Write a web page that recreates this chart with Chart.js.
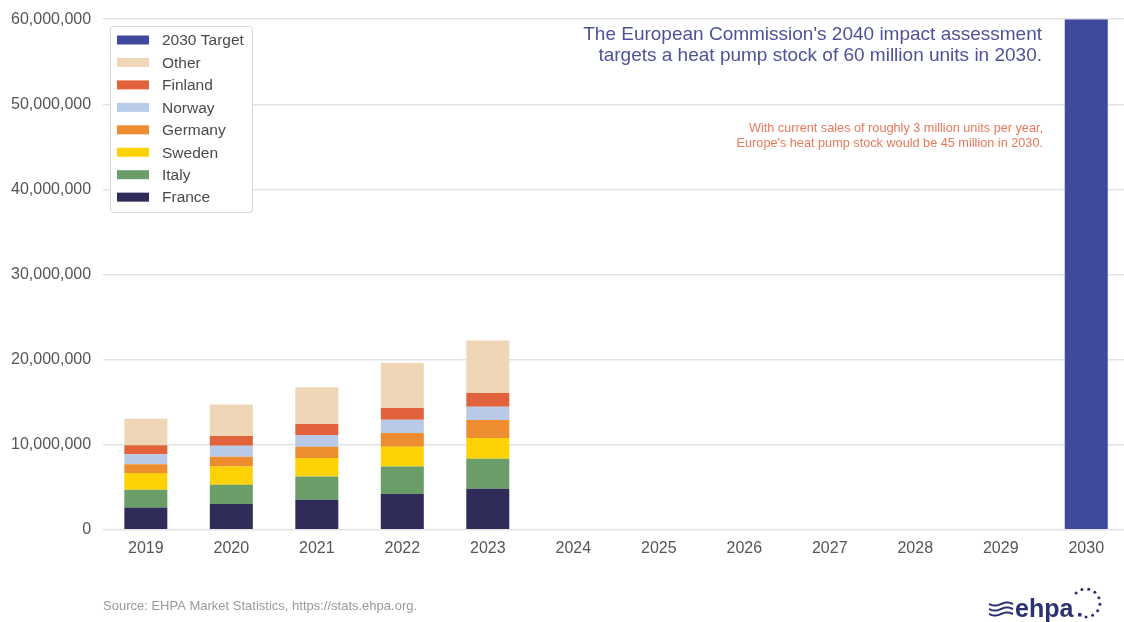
<!DOCTYPE html>
<html>
<head>
<meta charset="utf-8">
<script src="https://cdn.jsdelivr.net/npm/chart.js@4.4.1/dist/chart.umd.min.js"></script>
<style>
  html, body { margin: 0; padding: 0; background: #ffffff; overflow: hidden; }
  #wrap { position: relative; width: 1130px; height: 622px; }
</style>
</head>
<body>
<div id="wrap"><canvas id="c"></canvas></div>
<script>
// ---------- data ----------
const years = ['2019','2020','2021','2022','2023','2024','2025','2026','2027','2028','2029','2030'];
const france  = [2.62e6, 3.02e6, 3.53e6, 4.20e6, 4.82e6, null, null, null, null, null, null, null];
const italy   = [2.10e6, 2.27e6, 2.74e6, 3.25e6, 3.53e6, null, null, null, null, null, null, null];
const sweden  = [1.95e6, 2.16e6, 2.16e6, 2.31e6, 2.43e6, null, null, null, null, null, null, null];
const germany = [1.02e6, 1.14e6, 1.33e6, 1.61e6, 2.12e6, null, null, null, null, null, null, null];
const norway  = [1.20e6, 1.29e6, 1.38e6, 1.57e6, 1.57e6, null, null, null, null, null, null, null];
const finland = [1.06e6, 1.14e6, 1.29e6, 1.37e6, 1.61e6, null, null, null, null, null, null, null];
const other   = [3.10e6, 3.69e6, 4.31e6, 5.33e6, 6.16e6, null, null, null, null, null, null, null];
const target2030 = [null, null, null, null, null, null, null, null, null, null, null, 60e6];
const yTicks = [0, 10e6, 20e6, 30e6, 40e6, 50e6, 60e6];

const titleLines = ["The European Commission's 2040 impact assessment", "targets a heat pump stock of 60 million units in 2030."];
const noteLines = ["With current sales of roughly 3 million units per year,", "Europe's heat pump stock would be 45 million in 2030."];
const sourceText = "Source: EHPA Market Statistics, https://stats.ehpa.org.";
const logoText = "ehpa";

const FONT = "'Liberation Sans', Arial, Helvetica, sans-serif";

const datasets = [
  { label: 'France', data: france, backgroundColor: '#302c5a' },
  { label: 'Italy', data: italy, backgroundColor: '#6a9d68' },
  { label: 'Sweden', data: sweden, backgroundColor: '#fed205' },
  { label: 'Germany', data: germany, backgroundColor: '#ee8d30' },
  { label: 'Norway', data: norway, backgroundColor: '#b9cae8' },
  { label: 'Finland', data: finland, backgroundColor: '#e2623b' },
  { label: 'Other', data: other, backgroundColor: '#efd6b7' },
  { label: '2030 Target', data: target2030, backgroundColor: '#3f4a9c' }
];

// ---------- custom drawing plugin ----------
const extras = {
  id: 'extras',
  afterDatasetsDraw(chart) {
    const ctx = chart.ctx;
    ctx.save();
    // legend box
    const lx = 110, ly = 26, lw = 142, lh = 186;
    ctx.fillStyle = '#ffffff';
    ctx.strokeStyle = '#d4d4d4';
    ctx.lineWidth = 1;
    ctx.beginPath();
    if (ctx.roundRect) ctx.roundRect(lx + 0.5, ly + 0.5, lw, lh, 3); else ctx.rect(lx + 0.5, ly + 0.5, lw, lh);
    ctx.fill();
    ctx.stroke();
    const items = chart.data.datasets.slice().reverse();
    ctx.font = '15.5px ' + FONT;
    ctx.textBaseline = 'middle';
    ctx.textAlign = 'left';
    items.forEach((ds, i) => {
      const cy = 40 + i * 22.45;
      ctx.fillStyle = ds.backgroundColor;
      ctx.fillRect(117, cy - 4.5, 32, 9);
      ctx.fillStyle = '#4a4a4a';
      ctx.fillText(ds.label, 162, cy + 1);
    });

    // title annotation
    ctx.textAlign = 'right';
    ctx.fillStyle = '#4e5299';
    ctx.font = '19px ' + FONT;
    ctx.fillText(titleLines[0], 1042, 35);
    ctx.fillText(titleLines[1], 1042, 56);

    // note annotation
    ctx.fillStyle = '#e8795a';
    ctx.font = '12.7px ' + FONT;
    ctx.fillText(noteLines[0], 1043, 128);
    ctx.fillText(noteLines[1], 1043, 143);

    // source
    ctx.textAlign = 'left';
    ctx.fillStyle = '#9a9a9a';
    ctx.font = '13px ' + FONT;
    ctx.fillText(sourceText, 103, 606);

    // logo: waves
    ctx.strokeStyle = '#2b3070';
    ctx.lineWidth = 2;
    for (let k = 0; k < 3; k++) {
      const by = 604 + k * 5;
      ctx.beginPath();
      for (let x = 0; x <= 24; x++) {
        const px = 989 + x;
        const py = by + Math.sin(x / 24 * Math.PI * 2) * 1.6;
        if (x === 0) ctx.moveTo(px, py); else ctx.lineTo(px, py);
      }
      ctx.stroke();
    }
    ctx.fillStyle = '#2b3070';
    ctx.font = 'bold 25px ' + FONT;
    ctx.textBaseline = 'alphabetic';
    ctx.fillText(logoText, 1015, 617);
    ctx.fillRect(1078, 613, 3.5, 3.5);
    // dots arc
    const cx = 1086, cyy = 603, r = 14;
    for (let k = 0; k < 9; k++) {
      const a = -Math.PI * 0.75 + k * (Math.PI * 1.25 / 8);
      ctx.beginPath();
      ctx.arc(cx + r * Math.cos(a), cyy + r * Math.sin(a), 1.5, 0, Math.PI * 2);
      ctx.fill();
    }
    ctx.restore();
  }
};

new Chart(document.getElementById('c'), {
  type: 'bar',
  data: { labels: years, datasets: datasets },
  plugins: [extras],
  options: {
    responsive: true,
    maintainAspectRatio: false,
    animation: false,
    devicePixelRatio: 1,
    layout: { padding: { left: -1, right: 1, top: 15, bottom: 55 } },
    datasets: { bar: { categoryPercentage: 1, barPercentage: 0.503 } },
    plugins: { legend: { display: false }, tooltip: { enabled: false } },
    scales: {
      x: {
        stacked: true,
        grid: { display: false, drawTicks: false },
        border: { display: false },
        ticks: { color: '#555555', font: { family: FONT, size: 16 }, padding: 9, maxRotation: 0 }
      },
      y: {
        stacked: true,
        min: 0,
        max: 60e6,
        afterBuildTicks(axis) { axis.ticks = yTicks.map(v => ({ value: v })); },
        grid: { color: '#e3e3e3', lineWidth: 1.5, drawTicks: false },
        border: { display: false },
        ticks: {
          color: '#555555',
          font: { family: FONT, size: 16, lineHeight: 0.9 },
          padding: 12,
          callback: v => Number(v).toLocaleString('en-US')
        }
      }
    }
  }
});
</script>
</body>
</html>
